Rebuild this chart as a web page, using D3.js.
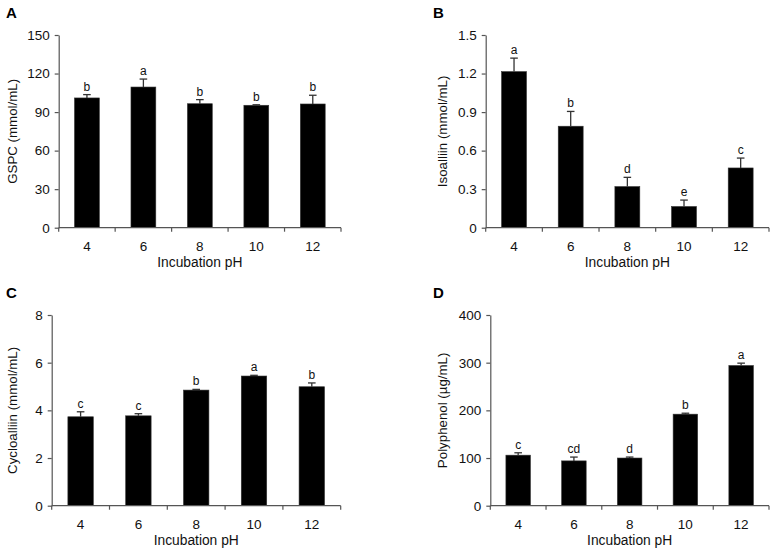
<!DOCTYPE html>
<html>
<head>
<meta charset="utf-8">
<script src="https://cdn.jsdelivr.net/npm/d3@7"></script>
<style>
  html, body { margin: 0; padding: 0; background: #fff; }
  svg { display: block; font-family: "Liberation Sans", Arial, Helvetica, sans-serif; }
</style>
</head>
<body>
<svg id="chart" width="776" height="555"></svg>
<script>
// ---- data ----
const categories = ["4", "6", "8", "10", "12"];
const xTitle = "Incubation pH";

const gspcValues = [101, 109.5, 96.5, 95.3, 96.3];
const gspcErrors = [2.6, 6.2, 3.2, 0.4, 6.8];
const gspcLetters = ["b", "a", "b", "b", "b"];
const gspcTicks = [0, 30, 60, 90, 120, 150];

const isoValues = [1.215, 0.79, 0.32, 0.165, 0.465];
const isoErrors = [0.105, 0.115, 0.072, 0.05, 0.077];
const isoLetters = ["a", "b", "d", "e", "c"];
const isoTicks = [0, 0.3, 0.6, 0.9, 1.2, 1.5];

const cycloValues = [3.73, 3.77, 4.85, 5.44, 4.99];
const cycloErrors = [0.21, 0.09, 0.03, 0.03, 0.16];
const cycloLetters = ["c", "c", "b", "a", "b"];
const cycloTicks = [0, 2, 4, 6, 8];

const polyValues = [106, 94, 100, 192, 294];
const polyErrors = [5, 8, 2, 2, 5];
const polyLetters = ["c", "cd", "d", "b", "a"];
const polyTicks = [0, 100, 200, 300, 400];

// ---- layout ----
const panels = [
  { tag: "A", yTitle: "GSPC (mmol/mL)", values: gspcValues, errors: gspcErrors, letters: gspcLetters, ticks: gspcTicks,
    x0: 58.7, x1: 341, yTop: 35, yBot: 227.7, tagX: 6, tagY: 18, titleX: 12 },
  { tag: "B", yTitle: "Isoalliin (mmol/mL)", values: isoValues, errors: isoErrors, letters: isoLetters, ticks: isoTicks,
    x0: 485.7, x1: 769, yTop: 35, yBot: 227.7, tagX: 433, tagY: 18, titleX: 442 },
  { tag: "C", yTitle: "Cycloalliin (mmol/mL)", values: cycloValues, errors: cycloErrors, letters: cycloLetters, ticks: cycloTicks,
    x0: 51.7, x1: 340.7, yTop: 315, yBot: 505.7, tagX: 6, tagY: 298, titleX: 12 },
  { tag: "D", yTitle: "Polyphenol (\u00b5g/mL)", values: polyValues, errors: polyErrors, letters: polyLetters, ticks: polyTicks,
    x0: 490.3, x1: 769, yTop: 315, yBot: 505.7, tagX: 433, tagY: 298, titleX: 442 }
];

const svg = d3.select("#chart");
const axisColor = "#555";
const textColor = "#111";

panels.forEach(p => {
  const g = svg.append("g");
  const x = d3.scaleBand().domain(categories).range([p.x0, p.x1]).paddingInner(0.56).paddingOuter(0.28);
  const y = d3.scaleLinear().domain([p.ticks[0], p.ticks[p.ticks.length - 1]]).range([p.yBot, p.yTop]);

  // y axis
  const yAxis = d3.axisLeft(y).tickValues(p.ticks).tickFormat(d => String(d)).tickSize(4).tickPadding(5).tickSizeOuter(0);
  const ya = g.append("g").attr("transform", `translate(${p.x0},0)`).call(yAxis);
  ya.select(".domain").attr("stroke", axisColor).attr("stroke-width", 1.2);
  ya.selectAll(".tick line").attr("stroke", axisColor).attr("stroke-width", 1.2);
  ya.selectAll(".tick text").attr("fill", textColor).style("font-size", "13.5px");

  // bars
  g.selectAll(".bar").data(p.values).enter().append("rect")
    .attr("x", (d, i) => x(categories[i]))
    .attr("width", x.bandwidth())
    .attr("y", d => y(d))
    .attr("height", d => y(0) - y(d))
    .attr("fill", "#000")
    .attr("stroke", "#333").attr("stroke-width", 0.6);

  // error bars (upper)
  const cx = i => x(categories[i]) + x.bandwidth() / 2;
  p.values.forEach((v, i) => {
    const top = y(v + p.errors[i]);
    g.append("line").attr("x1", cx(i)).attr("x2", cx(i)).attr("y1", y(v)).attr("y2", top)
      .attr("stroke", "#333").attr("stroke-width", 1.3);
    g.append("line").attr("x1", cx(i) - 3.8).attr("x2", cx(i) + 3.8).attr("y1", top).attr("y2", top)
      .attr("stroke", "#333").attr("stroke-width", 1.3);
    g.append("text").attr("x", cx(i)).attr("y", top - 4).attr("text-anchor", "middle")
      .attr("fill", textColor).style("font-size", "12px").text(p.letters[i]);
  });

  // x axis: baseline with ticks at category boundaries
  g.append("line").attr("x1", p.x0).attr("x2", p.x1).attr("y1", p.yBot).attr("y2", p.yBot)
    .attr("stroke", axisColor).attr("stroke-width", 1.2);
  const step = x.step();
  d3.range(categories.length + 1).forEach(k => {
    const tx = p.x0 + k * step;
    g.append("line").attr("x1", tx).attr("x2", tx).attr("y1", p.yBot).attr("y2", p.yBot + 4)
      .attr("stroke", axisColor).attr("stroke-width", 1.2);
  });
  categories.forEach((c, i) => {
    g.append("text").attr("x", cx(i)).attr("y", p.yBot + 23.5).attr("text-anchor", "middle")
      .attr("fill", textColor).style("font-size", "13.5px").text(c);
  });

  // x title
  g.append("text").attr("x", (p.x0 + p.x1) / 2).attr("y", p.yBot + 39)
    .attr("text-anchor", "middle").attr("fill", textColor).style("font-size", "13.8px").text(xTitle);

  // y title
  g.append("text").attr("transform", `translate(${p.titleX},${(p.yTop + p.yBot) / 2}) rotate(-90)`)
    .attr("text-anchor", "middle").attr("dy", "0.35em").attr("fill", textColor).style("font-size", "13.3px").text(p.yTitle);

  // panel tag
  g.append("text").attr("x", p.tagX).attr("y", p.tagY).attr("fill", "#000")
    .style("font-size", "15px").style("font-weight", "bold").text(p.tag);
});
</script>
</body>
</html>
